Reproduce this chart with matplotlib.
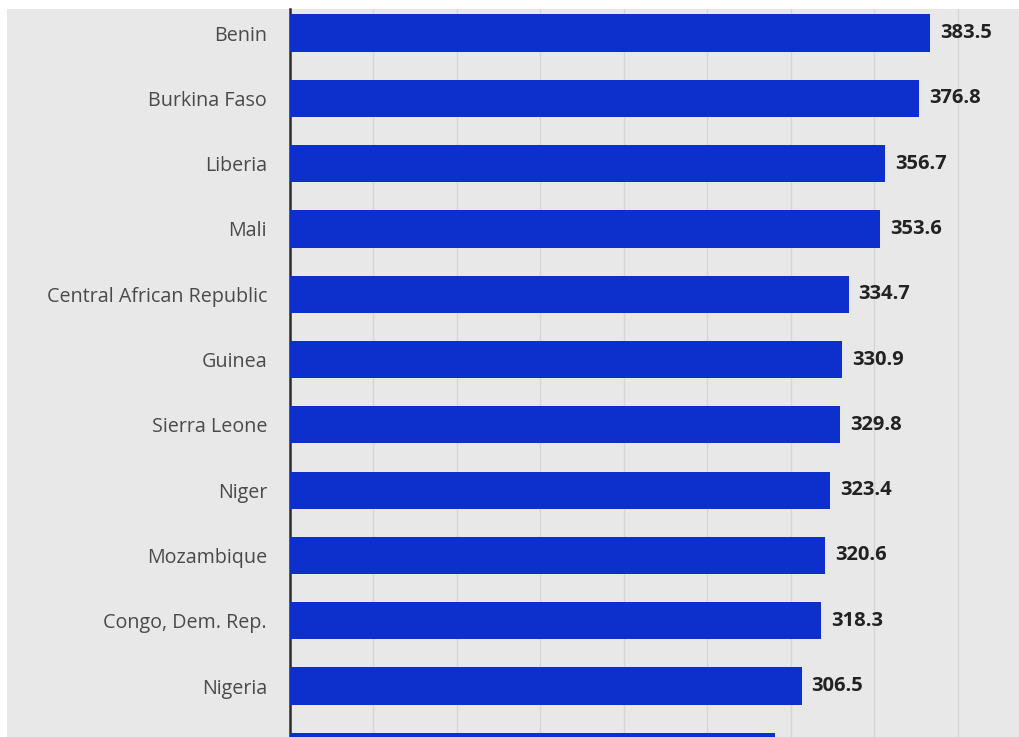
import matplotlib.pyplot as plt
from matplotlib.patches import Rectangle

countries = [
    "Benin", "Burkina Faso", "Liberia", "Mali", "Central African Republic",
    "Guinea", "Sierra Leone", "Niger", "Mozambique", "Congo, Dem. Rep.", "Nigeria",
    "",  # next bar, cut off by the bottom edge
]
values = [383.5, 376.8, 356.7, 353.6, 334.7, 330.9, 329.8, 323.4, 320.6, 318.3, 306.5, 290.6]
shown_labels = 11

BG = "#e8e8e8"
BAR = "#0d30cc"

fig = plt.figure(figsize=(10.19, 7.37), dpi=100, facecolor="white")
fig.patches.append(Rectangle((7 / 1019, 0), 1 - 7 / 1019, 1 - 9 / 737,
                             transform=fig.transFigure, facecolor=BG, edgecolor="none", zorder=-10))

ax = fig.add_axes([290 / 1019, 0, 1 - 290 / 1019, 1 - 9 / 737])
ax.set_facecolor(BG)

ypos = list(range(len(values)))
ax.barh(ypos, values, height=0.57, color=BAR, zorder=3)

for i, v in enumerate(values[:shown_labels]):
    ax.text(v + 6, i, f"{v:.1f}", va="center", ha="left", fontsize=14.5,
            fontweight="bold", color="#222222", family="Open Sans", zorder=4)

ax.set_xlim(0, 436.8)
ax.set_ylim(10.78, -0.368)
ax.set_xticks(range(50, 450, 50))
ax.tick_params(axis="x", length=0, labelbottom=False)
ax.grid(axis="x", color="#d6d6d6", linewidth=1.0, zorder=1)

ax.set_yticks(ypos[:shown_labels])
ax.set_yticklabels(countries[:shown_labels], fontsize=14.2, color="#4a4a4a", family="Open Sans")
ax.tick_params(axis="y", length=0, pad=16.5)

for side in ["top", "right", "bottom"]:
    ax.spines[side].set_visible(False)
ax.spines["left"].set_color("#2a2a2a")
ax.spines["left"].set_linewidth(1.8)

fig.savefig("out.png", dpi=100, facecolor=fig.get_facecolor())
